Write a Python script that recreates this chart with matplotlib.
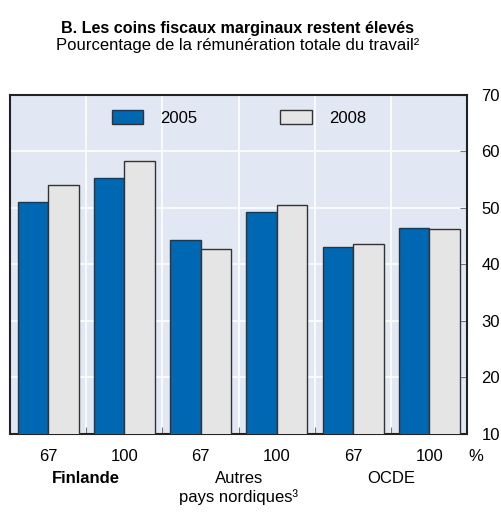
import matplotlib.pyplot as plt
import numpy as np

plt.rcParams["font.family"] = ["Liberation Sans", "DejaVu Sans"]

# Data
bar_labels = ["67", "100", "67", "100", "67", "100"]
groups = ["Finlande", "Autres\npays nordiques³", "OCDE"]
values_2005 = [51.0, 55.3, 44.4, 49.2, 43.0, 46.4]
values_2008 = [54.1, 58.3, 42.8, 50.5, 43.7, 46.2]

blue = "#0067B3"
grey = "#E5E5E5"
bg = "#E1E7F3"

fig = plt.figure(figsize=(5.01, 5.13), dpi=100)
ax = fig.add_axes([0.02, 0.154, 0.913, 0.661])
ax.set_facecolor(bg)

x = np.arange(len(bar_labels))
w = 0.4
ax.bar(x - w / 2, values_2005, w, color=blue, edgecolor="#333333", linewidth=1, label="2005", zorder=3)
ax.bar(x + w / 2, values_2008, w, color=grey, edgecolor="#333333", linewidth=1, label="2008", zorder=3)

ax.set_xlim(-0.5, len(x) - 0.5)
ax.set_ylim(10, 70)

# Gridlines
for y in range(20, 70, 10):
    ax.axhline(y, color="white", linewidth=1.2, zorder=1)
for b in np.arange(0.5, len(x) - 0.5, 1):
    ax.axvline(b, color="white", linewidth=1.2, zorder=1)

ax.yaxis.tick_right()
ax.set_yticks(range(10, 71, 10))
ax.tick_params(axis="y", direction="in", length=5, color="#777777", labelsize=12, pad=10)
ax.set_xticks(np.arange(0.5, len(x) - 0.5, 1))
ax.set_xticklabels([])
ax.tick_params(axis="x", direction="in", length=5, color="#777777")

for s in ax.spines.values():
    s.set_linewidth(1.5)
    s.set_color("#222222")

# Bar labels
for xi, lab in zip(x, bar_labels):
    ax.text(xi, -0.045, lab, transform=ax.get_xaxis_transform(), ha="center", va="top", fontsize=12)
ax.text(1.018, -0.045, "%", transform=ax.transAxes, ha="center", va="top", fontsize=12)

# Group labels
for i, g in enumerate(groups):
    ax.text(2 * i + 0.5, -0.11, g, transform=ax.get_xaxis_transform(), ha="center", va="top",
            fontsize=12, fontweight="bold" if i == 0 else "normal", linespacing=1.2)

ax.legend(loc="upper center", bbox_to_anchor=(0.5, 1.0), ncol=2, frameon=False, fontsize=12,
          handlelength=1.9, handleheight=0.9, columnspacing=5.0, handletextpad=1.0, borderaxespad=0.5)

fig.text(0.475, 0.945, "B. Les coins fiscaux marginaux restent élevés", ha="center", va="center",
         fontsize=11.6, fontweight="bold")
fig.text(0.475, 0.912, "Pourcentage de la rémunération totale du travail²", ha="center", va="center",
         fontsize=12)

fig.savefig("out.png", dpi=100)
